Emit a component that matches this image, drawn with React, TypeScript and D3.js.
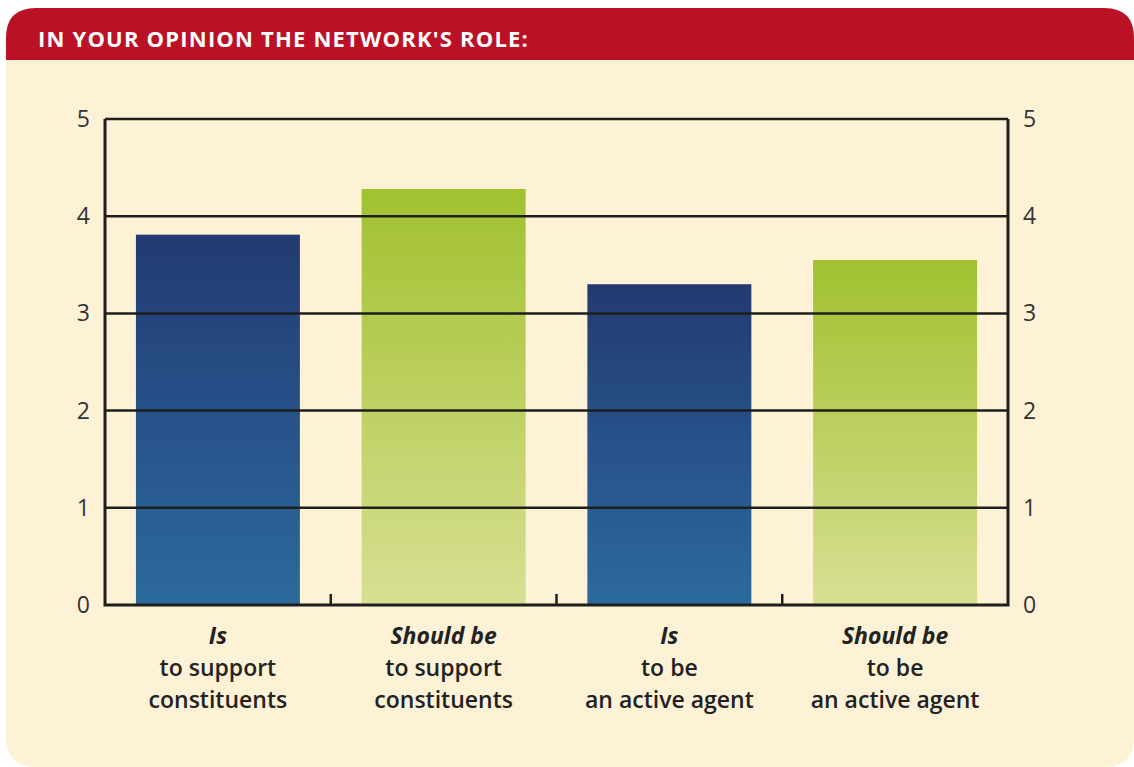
import React, { useEffect, useRef } from 'react';
import * as d3 from 'd3';

// values
const categories = ['is-support', 'should-support', 'is-agent', 'should-agent'];
const values = [3.81, 4.28, 3.3, 3.55];
const kinds = ['is', 'should', 'is', 'should'];
const labelTop = ['Is', 'Should be', 'Is', 'Should be'];
const labelMid = ['to support', 'to support', 'to be', 'to be'];
const labelBottom = ['constituents', 'constituents', 'an active agent', 'an active agent'];
const yTicks = [0, 1, 2, 3, 4, 5];

const W = 1134;
const H = 767;

const App = () => {
  const ref = useRef<SVGSVGElement | null>(null);

  useEffect(() => {
    const svg = d3.select(ref.current);
    svg.selectAll('*').remove();

    const font = "'Open Sans', 'DejaVu Sans', sans-serif";

    const defs = svg.append('defs');
    const blue = defs.append('linearGradient').attr('id', 'gBlue').attr('x1', 0).attr('y1', 0).attr('x2', 0).attr('y2', 1);
    blue.append('stop').attr('offset', '0%').attr('stop-color', '#233a71');
    blue.append('stop').attr('offset', '50%').attr('stop-color', '#27528a');
    blue.append('stop').attr('offset', '100%').attr('stop-color', '#2c6a9b');
    const green = defs.append('linearGradient').attr('id', 'gGreen').attr('x1', 0).attr('y1', 0).attr('x2', 0).attr('y2', 1);
    green.append('stop').attr('offset', '0%').attr('stop-color', '#a1c12f');
    green.append('stop').attr('offset', '100%').attr('stop-color', '#d8df93');

    // panel: red header + cream body
    const px0 = 6, py0 = 8, px1 = 1134, py1 = 767, r = 30;
    svg.append('path')
      .attr('d', `M${px0},${py0 + r} Q${px0},${py0} ${px0 + r},${py0} L${px1 - r},${py0} Q${px1},${py0} ${px1},${py0 + r} L${px1},${py1 - r} Q${px1},${py1} ${px1 - r},${py1} L${px0 + r},${py1} Q${px0},${py1} ${px0},${py1 - r} Z`)
      .attr('fill', '#fef2d6');
    svg.append('path')
      .attr('d', `M${px0},60 L${px0},${py0 + r} Q${px0},${py0} ${px0 + r},${py0} L${px1 - r},${py0} Q${px1},${py0} ${px1},${py0 + r} L${px1},60 Z`)
      .attr('fill', '#bb1127');
    svg.append('text')
      .attr('x', 38).attr('y', 47)
      .attr('fill', '#fff')
      .attr('font-family', font)
      .attr('font-weight', 700)
      .attr('font-size', 22)
      .attr('letter-spacing', 1.2)
      .text("IN YOUR OPINION THE NETWORK'S ROLE:");

    const left = 105, right = 1008, top = 119, bottom = 605;
    const x = d3.scaleBand().domain(categories).range([left, right]).paddingInner(0.2735).paddingOuter(0.137);
    const y = d3.scaleLinear().domain([0, 5]).range([bottom, top]);

    // bars
    svg.append('g').selectAll('rect').data(categories).join('rect')
      .attr('x', (d) => x(d)!)
      .attr('y', (d, i) => y(values[i]))
      .attr('width', x.bandwidth())
      .attr('height', (d, i) => y(0) - y(values[i]))
      .attr('fill', (d, i) => (kinds[i] === 'is' ? 'url(#gBlue)' : 'url(#gGreen)'));

    // gridlines
    svg.append('g').selectAll('line').data(yTicks.filter((t) => t > 0)).join('line')
      .attr('x1', left).attr('x2', right)
      .attr('y1', (d) => y(d)).attr('y2', (d) => y(d))
      .attr('stroke', '#1e1e1e').attr('stroke-width', 2.5);

    // frame
    svg.append('path')
      .attr('d', `M${left},${top} L${left},${bottom} L${right},${bottom} L${right},${top}`)
      .attr('fill', 'none').attr('stroke', '#1e1e1e').attr('stroke-width', 3);

    // category separators
    const step = x.step();
    svg.append('g').selectAll('line').data(categories.slice(1)).join('line')
      .attr('x1', (d) => x(d)! - (step - x.bandwidth()) / 2)
      .attr('x2', (d) => x(d)! - (step - x.bandwidth()) / 2)
      .attr('y1', bottom).attr('y2', bottom - 11)
      .attr('stroke', '#1e1e1e').attr('stroke-width', 2.5);

    // y tick labels both sides
    const tickStyle = (s: any) => s
      .attr('font-family', font)
      .attr('font-size', 23)
      .attr('fill', '#333');
    tickStyle(svg.append('g').selectAll('text').data(yTicks).join('text')
      .attr('x', 90).attr('y', (d) => y(d) + 8)
      .attr('text-anchor', 'end')
      .text((d) => d));
    tickStyle(svg.append('g').selectAll('text').data(yTicks).join('text')
      .attr('x', 1023).attr('y', (d) => y(d) + 8)
      .attr('text-anchor', 'start')
      .text((d) => d));

    // category labels
    const lbl = svg.append('g')
      .attr('font-family', font)
      .attr('font-size', 23)
      .attr('fill', '#222')
      .attr('text-anchor', 'middle');
    categories.forEach((c, i) => {
      const cx = x(c)! + x.bandwidth() / 2;
      lbl.append('text').attr('x', cx).attr('y', 644)
        .attr('font-weight', 700).attr('font-style', 'italic').text(labelTop[i]);
      lbl.append('text').attr('x', cx).attr('y', 676).attr('font-weight', 600).text(labelMid[i]);
      lbl.append('text').attr('x', cx).attr('y', 708).attr('font-weight', 600).text(labelBottom[i]);
    });
  }, []);

  return (
    <svg ref={ref} width={W} height={H} style={{ position: 'absolute', left: 0, top: 0 }} />
  );
};

export default App;
